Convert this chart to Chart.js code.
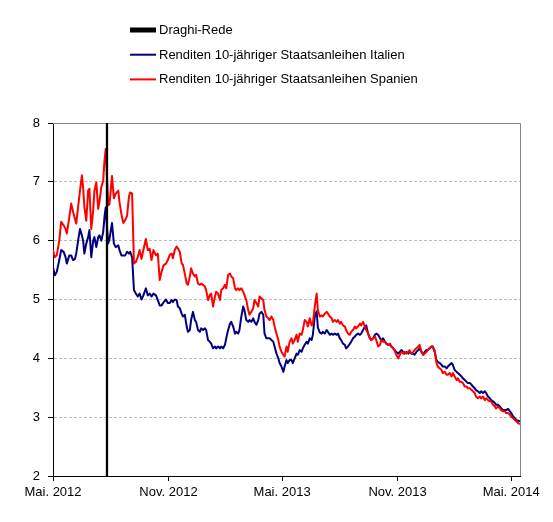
<!DOCTYPE html>
<html>
<head>
<meta charset="utf-8">
<script src="https://cdn.jsdelivr.net/npm/chart.js@4.4.1/dist/chart.umd.min.js"></script>
<style>
html,body{margin:0;padding:0;background:#fff;}
#wrap{width:553px;height:522px;position:relative;}
</style>
</head>
<body>
<div id="wrap"><canvas id="c"></canvas></div>
<script>
// ---- data (x = days since 1 May 2012) ----
const days = [
0,3,6,10,13,17,20,22,26,29,32,35,37,40,43,46,48,50,53,56,58,61,64,66,69,72,74,77,80,82,84,86,88,90,94,97,100,104,106,109,112,115,118,121,123,126,129,132,135,138,141,144,148,151,154,157,160,164,167,170,173,176,180,183,
186,189,191,194,197,199,202,205,207,210,213,215,218,220,223,226,228,231,234,236,239,242,244,247,250,252,255,258,260,263,266,268,271,274,276,279,282,284,287,290,292,295,297,300,303,305,308,311,313,316,319,321,324,327,329,332,335,337,340,343,345,348,351,353,356,359,361,364,367,369,
372,374,377,380,382,385,388,390,393,396,398,401,404,406,409,412,414,417,420,422,425,428,430,433,436,438,441,444,446,449,452,454,457,459,462,465,467,470,473,475,478,481,483,486,489,491,494,497,499,502,505,507,510,513,515,518,521,523,526,529,531,534,537,539,542,544,547,550,
555,558,560,563,566,568,571,574,576,579,582,584,587,590,592,595,597,600,603,605,608,611,613,616,619,621,624,627,629,632,635,637,640,643,645,648,651,653,656,659,661,664,667,669,672,674,677,680,682,685,688,690,693,696,698,701,704,706,709,712,714,717,720,722,725,728,730,733,736,738,741,744
];
const italien = [
5.55,5.41,5.47,5.67,5.84,5.81,5.72,5.61,5.75,5.75,5.67,5.69,5.78,6.0,6.2,6.09,6.0,5.78,5.95,6.06,6.18,5.72,6.0,6.06,5.89,6.06,6.09,6.0,6.15,6.4,6.57,6.23,5.95,6.03,6.30,5.95,5.89,5.92,5.84,5.75,5.75,5.75,5.81,5.78,5.81,5.72,5.16,5.10,5.05,5.10,5.0,5.07,5.19,5.07,5.10,5.05,5.10,5.07,4.99,4.9,4.9,4.95,5.0,4.94,
4.94,4.99,4.96,5.0,4.99,4.88,4.85,4.76,4.71,4.74,4.54,4.45,4.48,4.65,4.79,4.65,4.62,4.48,4.45,4.51,4.48,4.51,4.48,4.31,4.28,4.25,4.17,4.20,4.17,4.20,4.17,4.20,4.17,4.23,4.34,4.48,4.59,4.62,4.54,4.42,4.45,4.42,4.48,4.71,4.88,4.82,4.65,4.62,4.65,4.62,4.68,4.62,4.57,4.65,4.76,4.79,4.74,4.42,4.34,4.34,4.34,4.31,4.28,4.20,4.08,4.0,3.92,3.86,3.77,3.86,
3.97,3.92,3.97,3.97,3.92,4.0,4.08,4.06,4.14,4.11,4.17,4.23,4.28,4.25,4.34,4.31,4.40,4.71,4.80,4.52,4.44,4.42,4.45,4.42,4.48,4.45,4.40,4.42,4.40,4.42,4.40,4.42,4.34,4.31,4.25,4.23,4.17,4.20,4.25,4.28,4.34,4.37,4.40,4.42,4.40,4.42,4.48,4.54,4.56,4.42,4.34,4.31,4.34,4.40,4.42,4.40,4.34,4.31,4.34,4.28,4.25,4.23,4.23,4.20,4.17,4.14,4.11,4.08,
4.14,4.11,4.08,4.11,4.08,4.11,4.08,4.08,4.06,4.11,4.14,4.17,4.11,4.06,4.11,4.14,4.14,4.17,4.20,4.20,4.11,3.97,3.94,3.92,3.89,3.86,3.86,3.83,3.86,3.89,3.92,3.89,3.80,3.77,3.75,3.72,3.69,3.66,3.63,3.60,3.58,3.58,3.55,3.52,3.49,3.46,3.44,3.41,3.44,3.41,3.44,3.41,3.35,3.32,3.29,3.27,3.24,3.21,3.21,3.18,3.15,3.12,3.12,3.12,3.14,3.10,3.07,3.01,2.98,2.95,2.94,2.93
];
const spanien = [
5.84,5.72,5.75,6.0,6.32,6.26,6.2,6.12,6.4,6.63,6.49,6.37,6.29,6.57,6.85,7.11,6.91,6.57,6.34,6.85,6.88,6.2,6.51,6.85,6.99,6.54,6.66,6.91,7.02,7.36,7.56,7.08,6.60,6.62,7.10,6.72,6.80,6.85,6.65,6.45,6.30,6.35,6.42,6.75,6.82,6.80,5.61,5.64,5.72,5.84,5.69,5.84,6.03,5.84,5.86,5.67,5.84,5.75,5.78,5.33,5.47,5.58,5.61,5.67,
5.76,5.78,5.70,5.84,5.90,5.87,5.81,5.61,5.59,5.44,5.27,5.25,5.39,5.53,5.44,5.39,5.42,5.27,5.25,5.27,5.25,5.22,5.16,4.99,5.08,5.10,4.88,5.05,5.13,5.10,4.99,5.16,5.19,5.25,5.19,5.42,5.44,5.39,5.36,5.19,5.16,5.19,5.16,5.19,5.13,5.08,4.99,4.82,4.74,4.79,4.85,4.99,4.94,4.88,5.05,5.02,4.99,4.82,4.71,4.68,4.65,4.71,4.65,4.54,4.42,4.31,4.20,4.11,4.06,4.03,
4.20,4.11,4.28,4.34,4.25,4.31,4.40,4.28,4.42,4.40,4.48,4.65,4.62,4.54,4.68,4.56,4.59,4.88,5.10,4.82,4.71,4.73,4.71,4.76,4.79,4.76,4.71,4.68,4.62,4.65,4.62,4.65,4.59,4.62,4.56,4.54,4.48,4.42,4.40,4.45,4.48,4.54,4.51,4.54,4.59,4.56,4.62,4.54,4.48,4.42,4.34,4.31,4.34,4.37,4.31,4.20,4.23,4.31,4.28,4.28,4.25,4.23,4.25,4.20,4.17,4.14,4.06,4.0,
4.11,4.08,4.11,4.08,4.11,4.14,4.08,4.11,4.14,4.17,4.20,4.23,4.11,4.06,4.08,4.11,4.14,4.17,4.20,4.20,4.14,3.92,3.86,3.83,3.80,3.75,3.77,3.72,3.72,3.75,3.69,3.75,3.69,3.63,3.66,3.60,3.60,3.58,3.52,3.52,3.49,3.49,3.46,3.44,3.41,3.35,3.32,3.35,3.32,3.35,3.29,3.32,3.29,3.27,3.27,3.21,3.18,3.15,3.18,3.15,3.12,3.10,3.10,3.07,3.07,3.04,3.01,2.98,2.95,2.93,2.90,2.88
];
const draghiDay = 86;               // 26 July 2012
const seriesLabels = ['Draghi-Rede','Renditen 10-jähriger Staatsanleihen Italien','Renditen 10-jähriger Staatsanleihen Spanien'];
const yTicks = [2,3,4,5,6,7,8];
const xTickDays = [0,184,365,549,730];
const xTickLabels = ['Mai. 2012','Nov. 2012','Mai. 2013','Nov. 2013','Mai. 2014'];
const xMaxDay = 744;

const FONT = {family:'"Liberation Sans", Arial, sans-serif', size:13};

const toPts = vals => vals.map((v,i)=>({x:days[i], y:v}));

const frame = {
  id:'frame',
  beforeDatasetsDraw(chart){
    const {ctx, chartArea:a} = chart;
    ctx.save();
    ctx.strokeStyle = '#868686';
    ctx.lineWidth = 1;
    ctx.beginPath();
    ctx.moveTo(a.left, Math.round(a.top)+0.5);
    ctx.lineTo(Math.round(a.right)+0.5, Math.round(a.top)+0.5);
    ctx.lineTo(Math.round(a.right)+0.5, a.bottom);
    ctx.stroke();
    ctx.restore();
  }
};

const legendBox = {
  id:'legendBox',
  afterDraw(chart){
    const ctx = chart.ctx;
    ctx.save();
    chart.data.datasets.forEach((ds,i)=>{
      const y = 30 + i*24.7;
      ctx.strokeStyle = ds.borderColor;
      ctx.lineWidth = ds.legendLineWidth;
      ctx.lineCap = 'butt';
      ctx.beginPath();
      ctx.moveTo(130, y);
      ctx.lineTo(156, y);
      ctx.stroke();
      ctx.fillStyle = '#000';
      ctx.font = '13px "Liberation Sans", Arial, sans-serif';
      ctx.textBaseline = 'middle';
      ctx.textAlign = 'left';
      ctx.fillText(ds.label, 159, y + 0.5);
    });
    ctx.restore();
  }
};

new Chart(document.getElementById('c'), {
  type:'line',
  data:{
    datasets:[
      {label:seriesLabels[0], data:[{x:draghiDay,y:yTicks[0]},{x:draghiDay,y:yTicks[yTicks.length-1]}],
       borderColor:'#000000', borderWidth:2.3, pointRadius:0, order:0, legendLineWidth:5},
      {label:seriesLabels[1], data:toPts(italien), borderColor:'#000080', borderWidth:2,
       pointRadius:0, tension:0, order:2, legendLineWidth:2},
      {label:seriesLabels[2], data:toPts(spanien), borderColor:'#ff0000', borderWidth:2,
       pointRadius:0, tension:0, order:1, legendLineWidth:2}
    ]
  },
  options:{
    responsive:true,
    maintainAspectRatio:false,
    animation:false,
    events:[],
    layout:{padding:{top:123, right:33, left:0, bottom:0}},
    plugins:{legend:{display:false}, tooltip:{enabled:false}, title:{display:false}},
    elements:{line:{borderJoinStyle:'round', borderCapStyle:'butt'}},
    scales:{
      x:{
        type:'linear', min:0, max:xMaxDay,
        afterBuildTicks: s => { s.ticks = xTickDays.map(v=>({value:v})); },
        afterFit: s => { s.height = 46; },
        ticks:{ callback:(v,i)=> xTickLabels[i], font:FONT, color:'#000', maxRotation:0, autoSkip:false, padding:4 },
        grid:{ drawOnChartArea:false, drawTicks:true, tickLength:5, tickColor:'#000', color:'#000' },
        border:{ color:'#000', width:1 }
      },
      y:{
        min:yTicks[0], max:yTicks[yTicks.length-1],
        afterBuildTicks: s => { s.ticks = yTicks.map(v=>({value:v})); },
        afterFit: s => { s.width = 53; },
        ticks:{ font:FONT, color:'#000', padding:8 },
        grid:{
          color: c => (c.tick && (c.tick.value===yTicks[0] || c.tick.value===yTicks[yTicks.length-1])) ? 'rgba(0,0,0,0)' : '#bcbcbc',
          tickColor:'#000', tickLength:5, lineWidth:1
        },
        border:{ color:'#000', width:1, dash:[3,2] }
      }
    }
  },
  plugins:[frame, legendBox]
});
</script>
</body>
</html>
